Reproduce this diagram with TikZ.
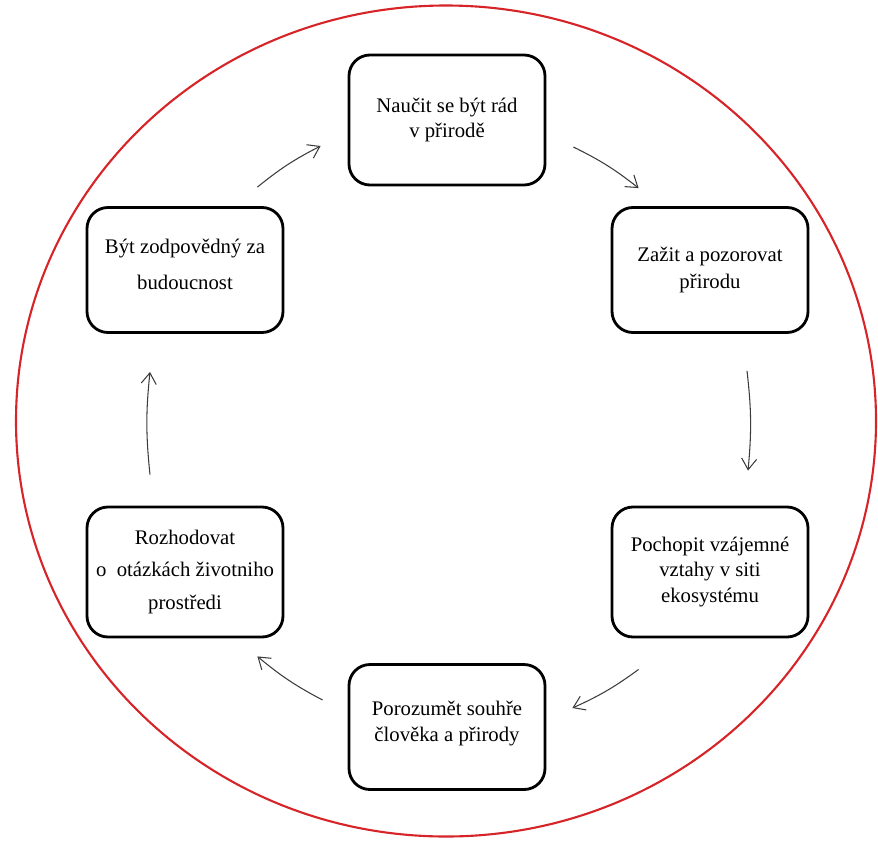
\documentclass[tikz,border=0pt]{standalone}
\usepackage{fontspec}
\setmainfont{Liberation Serif}
\usepackage{xcolor}
\usepackage{tikz}
\usetikzlibrary{arrows.meta}

\definecolor{ringred}{RGB}{214,36,40}
\definecolor{arrowgray}{RGB}{60,60,60}

\begin{document}
\begin{tikzpicture}[
        stagebox/.style={shape=rectangle, draw=black, line width=1.6pt, rounded corners=0.42cm,
                         minimum width=3.92cm, align=center, fill=white,
                         font=\fontsize{11.8}{14.4}\selectfont},
        cyclearrow/.style={draw=arrowgray, line width=0.6pt,
                           -{Straight Barb[length=2.2mm,width=3mm]}}
    ]
            \useasboundingbox (0,0) rectangle (17.56,-16.8);
            \draw[ringred, line width=1.2pt] (8.92,-8.42) ellipse [x radius=8.6, y radius=8.31];

            \node[stagebox, minimum height=2.6cm] (A) at (8.94, -2.4) {Naučit se být rád\\v přirodě};
            \node[stagebox, minimum height=2.5cm] (B) at (14.2, -5.4) {Zažit a pozorovat\\[1pt]přirodu};
            \node[stagebox, minimum height=2.6cm] (C) at (14.2, -11.44) {Pochopit vzájemné\\vztahy v siti\\ekosystému};
            \node[stagebox, minimum height=2.5cm] (D) at (8.94, -14.54) {Porozumět souhře\\člověka a přirody\\[-8pt]};
            \node[stagebox, minimum height=2.6cm] (E) at (3.7, -11.44) {Rozhodovat\\[4pt]o\ \ otázkách životniho\\[4pt]prostředi};
            \node[stagebox, minimum height=2.5cm] (F) at (3.7, -5.4) {Být zodpovědný za\\[6pt]budoucnost\\[-8pt]};

            \draw [cyclearrow] ([xshift=-0.54cm, yshift=0.38cm]F.north east) to[bend left=6] ([xshift=-0.54cm, yshift=-0.52cm]A.west);
            \draw [cyclearrow] ([xshift=0.54cm, yshift=-0.54cm]A.east) to[bend left=6] ([xshift=0.56cm, yshift=0.36cm]B.north west);

            \draw [cyclearrow] ([xshift=0.74cm, yshift=-0.74cm]B.south) to[bend left=6] ([xshift=0.76cm, yshift=0.7cm]C.north);
            \draw [cyclearrow] ([xshift=0.56cm, yshift=-0.62cm]C.south west) to[bend left=6] ([xshift=0.52cm, yshift=0.38cm]D.east);

            \draw [cyclearrow] ([xshift=-0.5cm, yshift=0.54cm]D.west) to[bend left=6] ([xshift=-0.54cm, yshift=-0.36cm]E.south east);
            \draw [cyclearrow] ([xshift=-0.7cm, yshift=0.62cm]E.north) to[bend left=6] ([xshift=-0.7cm, yshift=-0.76cm]F.south);
        \end{tikzpicture}
\end{document}
